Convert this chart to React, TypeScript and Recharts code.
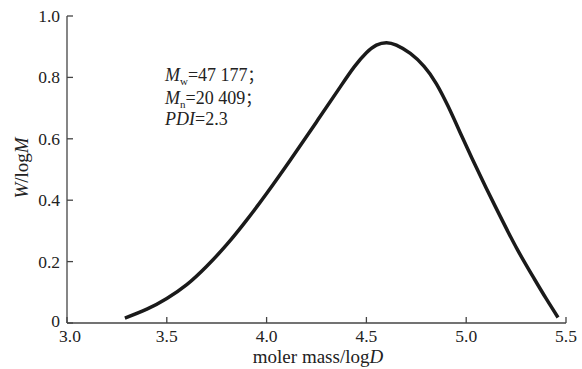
import { LineChart, Line, XAxis, YAxis } from 'recharts';

const logM = [
  3.29, 3.4, 3.5, 3.6, 3.7, 3.8, 3.9, 4.0, 4.12, 4.25, 4.37, 4.44, 4.5, 4.55, 4.6, 4.65,
  4.72, 4.79, 4.85, 4.91, 4.97, 5.03, 5.1, 5.18, 5.26, 5.34, 5.4, 5.46,
];
const wLogM = [
  0.016, 0.045, 0.08, 0.125, 0.185, 0.255, 0.335, 0.422, 0.532, 0.655, 0.77, 0.835, 0.88, 0.905,
  0.913, 0.905, 0.878, 0.835, 0.78, 0.705, 0.62, 0.535, 0.44, 0.335, 0.235, 0.145, 0.08, 0.018,
];
const xTicks = [3.0, 3.5, 4.0, 4.5, 5.0, 5.5];
const yTicks = [0, 0.2, 0.4, 0.6, 0.8, 1.0];

const data = logM.map((x, i) => ({ x, y: wLogM[i] }));

const FONT = '"Liberation Serif", "Times New Roman", serif';
const AXIS = '#444';

const XTick = (props: any) => {
  const { x, y, payload } = props;
  const v = payload.value as number;
  const dx = v === 3 ? 3 : 0;
  return (
    <text x={x + dx} y={y + 13} textAnchor="middle" style={{ fontFamily: FONT, fontSize: 17.5 }} fill="#222">
      {v.toFixed(1)}
    </text>
  );
};

const YTick = (props: any) => {
  const { x, y, payload } = props;
  const v = payload.value as number;
  const isZero = v === 0;
  return (
    <text
      x={x}
      y={isZero ? y + 4 : y + 6}
      textAnchor="end"
      style={{ fontFamily: FONT, fontSize: 17.5 }}
      fill="#222"
    >
      {isZero ? '0' : v.toFixed(1)}
    </text>
  );
};

const sub = { position: 'relative' as const, top: 4, fontSize: 11, lineHeight: 0 };
const semi = { fontFamily: '"Noto Sans CJK SC"', fontSize: 16 };

export default function App() {
  return (
    <div style={{ position: 'absolute', left: 0, top: 0, width: 582, height: 369, background: '#fff', fontFamily: FONT }}>
      <LineChart width={582} height={369} data={data} margin={{ top: 16, right: 16, bottom: 0, left: 0 }}>
        <XAxis
          dataKey="x"
          type="number"
          domain={[3, 5.5]}
          ticks={xTicks}
          height={46}
          tickSize={-6}
          tickMargin={12}
          stroke={AXIS}
          strokeWidth={1.3}
          tick={<XTick />}
        />
        <XAxis xAxisId="top" orientation="top" dataKey="x" type="number" domain={[3, 5.5]} height={0} tick={false} tickLine={false} stroke="#999" strokeWidth={1.3} />
        <YAxis
          type="number"
          domain={[0, 1]}
          ticks={yTicks}
          width={67}
          tickSize={-6}
          tickMargin={13}
          stroke={AXIS}
          strokeWidth={1.3}
          tick={<YTick />}
        />
        <YAxis yAxisId="right" orientation="right" type="number" domain={[0, 1]} width={0} tick={false} tickLine={false} stroke="#333" strokeWidth={1.3} />
        <Line
          dataKey="y"
          type="natural"
          stroke="#1a1a1a"
          strokeWidth={3.5}
          dot={false}
          isAnimationActive={false}
        />
      </LineChart>
      <div style={{ position: 'absolute', left: 165, top: 64, fontSize: 18, lineHeight: '21.5px', color: '#222', whiteSpace: 'nowrap' }}>
        <div><i>M</i><span style={sub}>w</span>=47 177<span style={semi}>；</span></div>
        <div><i>M</i><span style={sub}>n</span>=20 409<span style={semi}>；</span></div>
        <div><i>PDI</i>=2.3</div>
      </div>
      <div
        style={{
          position: 'absolute',
          left: 22,
          top: 168,
          transform: 'translate(-50%, -50%) rotate(-90deg)',
          fontSize: 19,
          color: '#222',
          whiteSpace: 'nowrap',
        }}
      >
        <i>W</i>/log<i>M</i>
      </div>
      <div
        style={{
          position: 'absolute',
          left: 318,
          top: 357,
          transform: 'translate(-50%, -50%)',
          fontSize: 19,
          color: '#222',
          whiteSpace: 'nowrap',
        }}
      >
        moler mass/log<i>D</i>
      </div>
    </div>
  );
}
